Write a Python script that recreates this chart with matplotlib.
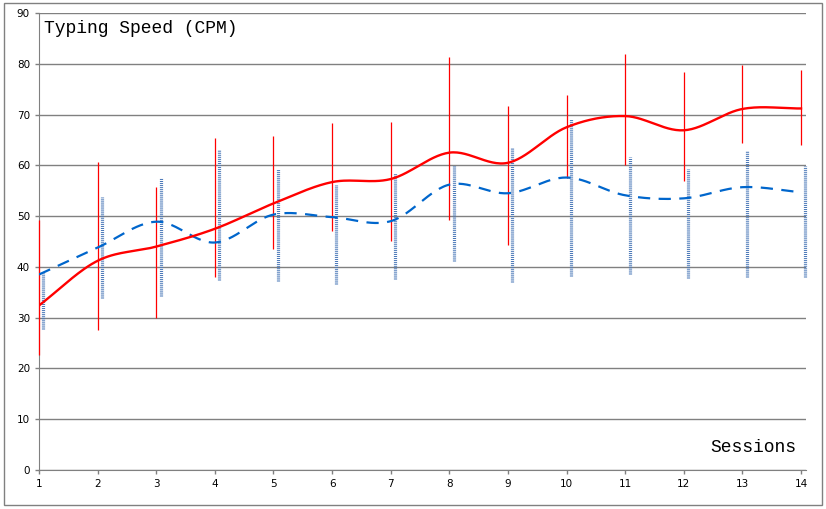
import numpy as np
import matplotlib
matplotlib.use("Agg")
import matplotlib.pyplot as plt
from matplotlib.patches import Rectangle

sessions = np.arange(1, 15)

# red series (line + thin error bars)
red_mean = [32.4, 41.2, 44.0, 47.5, 52.5, 56.7, 57.3, 62.5, 60.5, 67.5, 69.7, 66.9, 71.1, 71.2]
red_low = [22.7, 27.6, 29.9, 38.0, 43.5, 47.0, 45.0, 49.3, 44.4, 57.6, 60.0, 56.9, 64.4, 64.0]
red_high = [49.3, 60.7, 55.8, 65.3, 65.7, 68.3, 68.5, 81.4, 71.6, 73.8, 82.0, 78.3, 79.7, 78.7]

# blue series (dashed line + dotted error bars)
blue_mean = [38.5, 43.8, 48.9, 44.8, 50.3, 49.8, 49.0, 56.2, 54.5, 57.6, 54.1, 53.5, 55.7, 54.7]
blue_low = [27.7, 33.8, 34.2, 37.5, 37.3, 36.6, 37.6, 41.1, 37.0, 38.2, 38.6, 37.8, 38.1, 38.1]
blue_high = [38.7, 53.8, 57.6, 63.1, 59.2, 56.2, 58.4, 60.1, 63.4, 69.2, 61.7, 59.2, 62.9, 59.8]

yticks = np.arange(0, 91, 10)


def smooth(x, y, n=30):
    # catmull-rom through the points (like a spreadsheet "smoothed line")
    x = np.asarray(x, float)
    y = np.asarray(y, float)
    px = np.concatenate([[2 * x[0] - x[1]], x, [2 * x[-1] - x[-2]]])
    py = np.concatenate([[2 * y[0] - y[1]], y, [2 * y[-1] - y[-2]]])
    xs, ys = [], []
    t = np.linspace(0, 1, n, endpoint=False)
    for i in range(1, len(px) - 2):
        for p, out in ((px, xs), (py, ys)):
            p0, p1, p2, p3 = p[i - 1], p[i], p[i + 1], p[i + 2]
            out.extend(0.5 * (2 * p1 + (-p0 + p2) * t
                              + (2 * p0 - 5 * p1 + 4 * p2 - p3) * t ** 2
                              + (-p0 + 3 * p1 - 3 * p2 + p3) * t ** 3))
    xs.append(x[-1])
    ys.append(y[-1])
    return np.array(xs), np.array(ys)


fig = plt.figure(figsize=(8.26, 5.09), dpi=100)
ax = fig.add_axes([39 / 826, 39 / 509, 767 / 826, 457 / 509])

ax.set_xlim(1, 14.085)
ax.set_ylim(0, 90)
ax.set_yticks(yticks)
ax.set_xticks(sessions)
ax.grid(axis="y", color="#808080", lw=1)
ax.set_axisbelow(True)
for s in ["top", "right"]:
    ax.spines[s].set_visible(False)
for s in ["left", "bottom"]:
    ax.spines[s].set_color("#808080")
ax.tick_params(colors="#808080", labelcolor="black", labelsize=7.5, length=3, width=1)

# error bars
ax.vlines(sessions, red_low, red_high, color="#ff0000", lw=0.9, zorder=3,
          clip_on=False)
ax.vlines(sessions + 0.075, blue_low, blue_high, color="#4a78b8", lw=2.3,
          linestyles=(0, (0.32, 0.32)), zorder=3, clip_on=False)

bx, by = smooth(sessions, blue_mean)
ax.plot(bx, by, color="#0066cc", lw=1.6, dashes=(5.5, 3.8), zorder=4)
rx, ry = smooth(sessions, red_mean)
ax.plot(rx, ry, color="#ff0000", lw=1.7, zorder=5)

ax.text(0.007, 0.985, "Typing Speed (CPM)", transform=ax.transAxes,
        ha="left", va="top", fontsize=13, family="Liberation Mono")
ax.text(0.988, 0.03, "Sessions", transform=ax.transAxes,
        ha="right", va="bottom", fontsize=13, family="Liberation Mono")

fig.patches.append(Rectangle((4 / 826, 4 / 509), 818 / 826, 502 / 509,
                             transform=fig.transFigure, fill=False,
                             edgecolor="#808080", lw=1))

fig.savefig("out.png", dpi=100)
